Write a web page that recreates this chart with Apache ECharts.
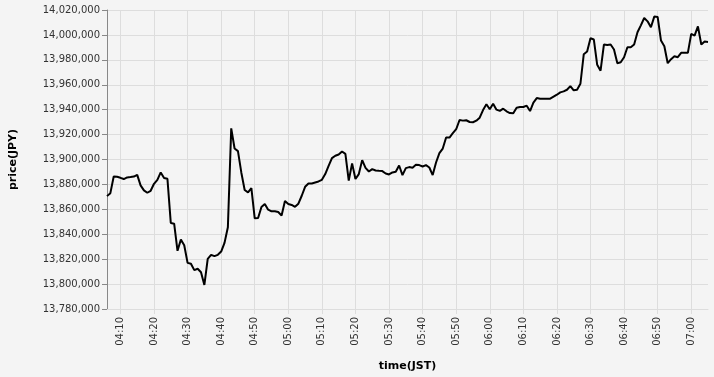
<!DOCTYPE html>
<html>
<head>
<meta charset="utf-8">
<script src="https://cdn.jsdelivr.net/npm/echarts@6/dist/echarts.min.js"></script>
<style>
html,body{margin:0;padding:0;background:#f4f4f4;}
#chart{width:714px;height:377px;}
</style>
</head>
<body>
<div id="chart"></div>
<script>
// time in minutes after 04:00 JST, one value per minute starting 04:06
var startMinute = 6;
var prices = [
13870600,13873000,13886300,13886100,13885300,13884300,13885600,13885900,13886300,13887700,
13879200,13875200,13873300,13874900,13880500,13883700,13889600,13885100,13884500,13849000,
13848500,13826700,13835700,13831200,13817000,13816300,13811200,13812300,13809500,13799300,
13820300,13823500,13822400,13823500,13826100,13833100,13845600,13925000,13908800,13906700,
13889600,13875500,13873600,13877100,13852800,13853100,13861900,13864300,13859700,13858400,
13858400,13857900,13855000,13866700,13864300,13863500,13862000,13864500,13870900,13878100,
13880800,13880800,13881600,13882400,13883700,13888300,13894900,13901100,13903000,13904000,
13906400,13904500,13883000,13896900,13884300,13888300,13899500,13893300,13890400,13892300,
13891200,13890900,13890700,13888800,13888000,13889600,13890200,13895200,13887500,13893100,
13893900,13893300,13895700,13895500,13894400,13895500,13893600,13887500,13897600,13905100,
13908800,13917600,13917600,13921100,13924300,13931700,13931200,13931500,13930100,13929900,
13931200,13933600,13939700,13944300,13940300,13944800,13940000,13939000,13940800,13938700,
13937300,13937100,13941600,13942100,13942100,13943200,13938900,13945600,13949300,13948800,
13948800,13948800,13948800,13950400,13952000,13953900,13954700,13956000,13958900,13955500,
13956000,13960800,13984500,13986700,13997300,13996300,13976000,13971300,13992300,13992000,
13992300,13988300,13977300,13978100,13982100,13990100,13990100,13992300,14002100,14007700,
14013600,14010900,14006100,14014700,14014400,13995500,13990900,13977300,13980500,13982900,
13982100,13985600,13985600,13985600,14000800,13999500,14006900,13992300,13994700,13994400
];
// x tick positions (minutes after 04:00) and their labels
var xTickValues = [10,20,30,40,50,60,70,80,90,100,110,120,130,140,150,160,170,180];
var xTickLabels = ['04:10','04:20','04:30','04:40','04:50','05:00','05:10','05:20','05:30','05:40','05:50','06:00','06:10','06:20','06:30','06:40','06:50','07:00'];
var yMin = 13780000, yMax = 14020000, yStep = 20000;
var xTitle = 'time(JST)';
var yTitle = 'price(JPY)';

var data = prices.map(function (v, i) { return [startMinute + i, v]; });
var xMin = data[0][0];
var xMax = data[data.length - 1][0];

function fmtNum(v) {
  return String(Math.round(v)).replace(/\B(?=(\d{3})+(?!\d))/g, ',');
}
function fmtTime(v) {
  var idx = xTickValues.indexOf(Math.round(v));
  return idx >= 0 ? xTickLabels[idx] : '';
}

var chart = echarts.init(document.getElementById('chart'), null, {renderer: 'canvas'});
chart.setOption({
  backgroundColor: '#f4f4f4',
  animation: false,
  grid: {left: 107, right: 6, top: 10, bottom: 67, containLabel: false},
  xAxis: {
    type: 'value',
    min: xMin,
    max: xMax,
    name: xTitle,
    nameLocation: 'middle',
    nameGap: 52,
    nameTextStyle: {fontFamily: 'DejaVu Sans', fontSize: 11, fontWeight: 'bold', color: '#000'},
    axisLine: {show: true, lineStyle: {color: '#dddddd', width: 1}},
    axisTick: {show: true, length: 5, customValues: xTickValues, lineStyle: {color: '#dddddd'}},
    axisLabel: {
      rotate: 90,
      margin: 8,
      customValues: xTickValues,
      fontFamily: 'DejaVu Sans',
      fontSize: 10,
      color: '#333',
      formatter: fmtTime
    },
    splitLine: {show: false}
  },
  yAxis: {
    type: 'value',
    min: yMin,
    max: yMax,
    interval: yStep,
    name: yTitle,
    nameLocation: 'middle',
    nameGap: 88,
    nameTextStyle: {fontFamily: 'DejaVu Sans', fontSize: 11, fontWeight: 'bold', color: '#000'},
    axisLine: {show: true, lineStyle: {color: '#888888', width: 1}},
    axisTick: {show: true, length: 5, lineStyle: {color: '#888888'}},
    axisLabel: {
      margin: 7,
      fontFamily: 'DejaVu Sans',
      fontSize: 10,
      color: '#333',
      formatter: fmtNum
    },
    splitLine: {show: true, lineStyle: {color: '#dddddd', width: 1}}
  },
  series: [{
    type: 'line',
    data: data,
    showSymbol: false,
    symbol: 'none',
    z: 3,
    lineStyle: {color: '#000000', width: 2},
    itemStyle: {color: '#000000'},
    markLine: {
      silent: true,
      symbol: ['none', 'none'],
      label: {show: false},
      animation: false,
      z: 1,
      lineStyle: {color: '#dddddd', width: 1, type: 'solid'},
      data: xTickValues.map(function (v) { return {xAxis: v}; })
    }
  }]
});
</script>
</body>
</html>
